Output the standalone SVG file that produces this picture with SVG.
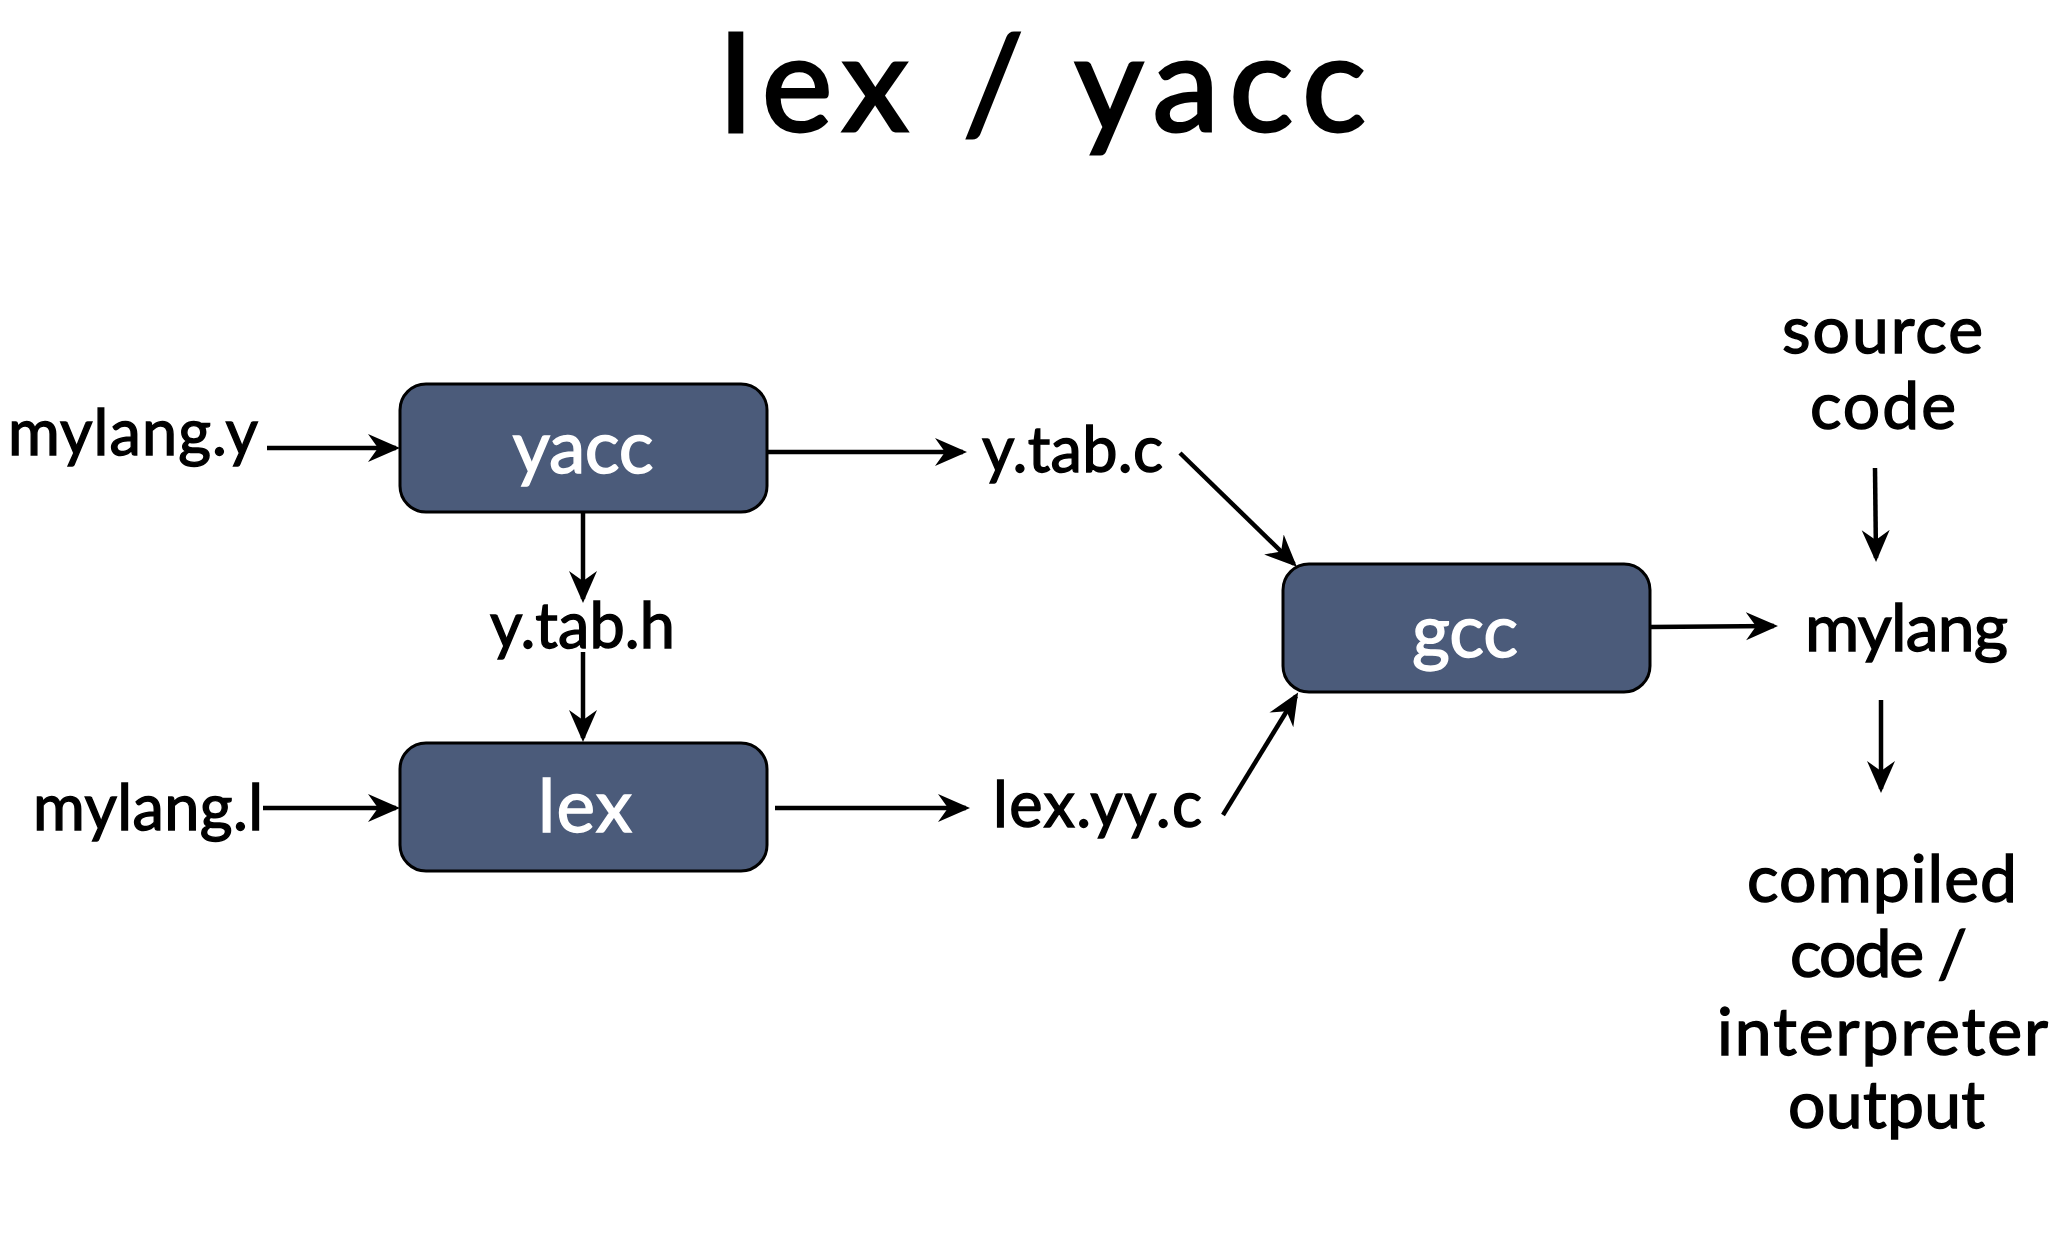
<svg xmlns="http://www.w3.org/2000/svg" width="2056" height="1240" viewBox="0 0 2056 1240">
<style>
  text { font-family: Lato, "Noto Sans", "Liberation Sans", sans-serif; fill: #000; stroke: #000; stroke-width: 1.4; }
  .title { font-size: 134px; stroke-width: 3; }
  .lbl { font-size: 63px; }
  .rlbl { font-size: 66px; }
  .box { fill: #4b5b7a; stroke: #000; stroke-width: 3; }
  .boxtxt { font-size: 73px; fill: #fff; stroke: #fff; text-anchor: middle; }
  .conn { stroke: #000; stroke-width: 4.5; fill: none; marker-end: url(#arrow); }
</style>
<defs>
  <marker id="arrow" markerUnits="userSpaceOnUse" markerWidth="34" markerHeight="32" viewBox="0 0 34 32" refX="28" refY="16" orient="auto">
    <path d="M0,2 L32,16 L0,30 L10,16 Z" fill="#000"/>
  </marker>
</defs>
<rect width="2056" height="1240" fill="#fff"/>
<text class="title" x="720" y="131" textLength="646">lex / yacc</text>

<g id="connectors">
  <line class="conn" x1="267" y1="448" x2="396" y2="448"/>
  <line class="conn" x1="263" y1="808" x2="396" y2="808"/>
  <line class="conn" x1="583" y1="513" x2="583" y2="599"/>
  <line class="conn" x1="583" y1="652" x2="583" y2="738"/>
  <line class="conn" x1="767" y1="452" x2="963" y2="452"/>
  <line class="conn" x1="775" y1="808" x2="966" y2="808"/>
  <line class="conn" x1="1180" y1="453" x2="1294" y2="564"/>
  <line class="conn" x1="1223" y1="815" x2="1296" y2="696"/>
  <line class="conn" x1="1650" y1="627" x2="1774" y2="626"/>
  <line class="conn" x1="1875" y1="468" x2="1876" y2="558"/>
  <line class="conn" x1="1881" y1="700" x2="1881" y2="789"/>
</g>

<g id="node-yacc">
  <rect class="box" x="400" y="384" width="367" height="128" rx="26"/>
  <text class="boxtxt" x="583" y="473" textLength="141">yacc</text>
</g>
<g id="node-lex">
  <rect class="box" x="400" y="743" width="367" height="128" rx="26"/>
  <text class="boxtxt" x="585" y="832" textLength="94">lex</text>
</g>
<g id="node-gcc">
  <rect class="box" x="1283" y="564" width="367" height="128" rx="26"/>
  <text class="boxtxt" x="1465" y="657" textLength="106">gcc</text>
</g>

<g id="node-mylang-y"><text class="lbl" x="8" y="455" textLength="250">mylang.y</text></g>
<g id="node-mylang-l"><text class="lbl" x="33" y="830" textLength="230">mylang.l</text></g>
<g id="node-ytabh"><text class="lbl" x="490" y="648" textLength="185">y.tab.h</text></g>
<g id="node-ytabc"><text class="lbl" x="982" y="472" textLength="181">y.tab.c</text></g>
<g id="node-lexyyc"><text class="lbl" x="993" y="827" textLength="209">lex.yy.c</text></g>
<g id="node-source">
  <text class="rlbl" x="1782" y="353" textLength="201">source</text>
  <text class="rlbl" x="1810" y="429" textLength="146">code</text>
</g>
<g id="node-mylang"><text class="rlbl" x="1805" y="651" textLength="203">mylang</text></g>
<g id="node-output">
  <text class="rlbl" x="1747" y="902" textLength="270">compiled</text>
  <text class="rlbl" x="1790" y="977" textLength="177">code /</text>
  <text class="rlbl" x="1717" y="1055" textLength="331">interpreter</text>
  <text class="rlbl" x="1788" y="1128" textLength="197">output</text>
</g>
</svg>
